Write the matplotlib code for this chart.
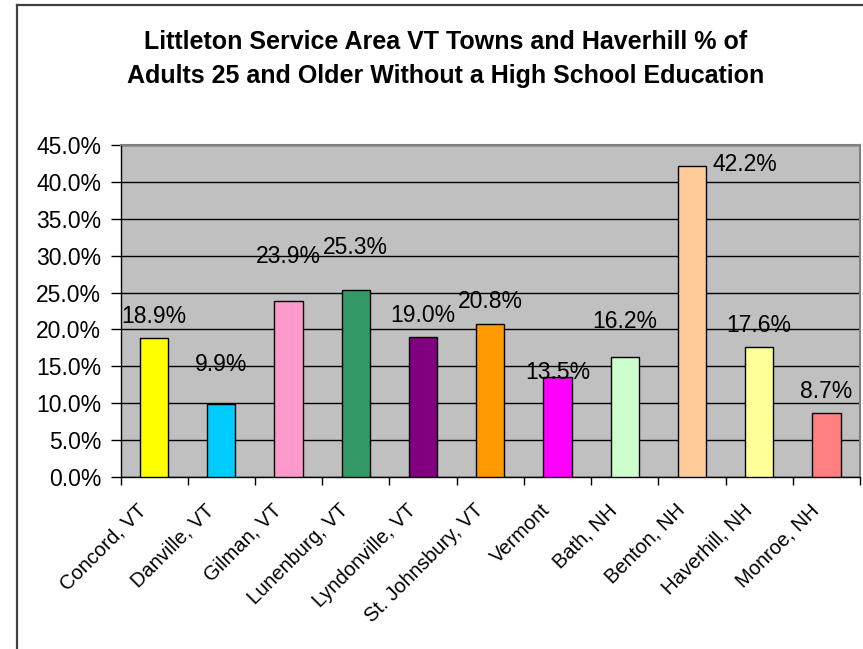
import numpy as np
import matplotlib.pyplot as plt
import matplotlib.transforms as mtransforms
from matplotlib.lines import Line2D
from matplotlib.ticker import FuncFormatter

towns = ["Concord, VT", "Danville, VT", "Gilman, VT", "Lunenburg, VT",
         "Lyndonville, VT", "St. Johnsbury, VT", "Vermont", "Bath, NH",
         "Benton, NH", "Haverhill, NH", "Monroe, NH"]
pct = [18.9, 9.9, 23.9, 25.3, 19.0, 20.8, 13.5, 16.2, 42.2, 17.6, 8.7]
colors = ["#FFFF00", "#00CCFF", "#FF99CC", "#339966", "#800080", "#FF9900",
          "#FF00FF", "#CCFFCC", "#FFCC99", "#FFFF99", "#FF8080"]
# label offsets in pixels (excel placed them a bit irregularly)
lab_dx = [0, 0, 0, 0, 0, 0, 0, 0, 53, 0, 0]
lab_dy = [15, 33, 38, 36, 15, 16, -2, 29, -5, 15, 15]

plt.rcParams['font.family'] = ['Liberation Sans', 'DejaVu Sans']

W, H = 863, 649
fig = plt.figure(figsize=(W / 100, H / 100), dpi=100)

# outer chart border (left/top only visible)
fig.add_artist(Line2D([17 / W, 17 / W], [0, 1 - 5 / H], color="#404040", lw=1.6))
fig.add_artist(Line2D([17 / W, 1], [1 - 5 / H, 1 - 5 / H], color="#404040", lw=1.6))

fig.text(446 / W, 1 - 30 / H,
         "Littleton Service Area VT Towns and Haverhill % of\n"
         "Adults 25 and Older Without a High School Education",
         ha="center", va="top", fontsize=18, fontweight="bold", linespacing=1.5)

ax = fig.add_axes([120.5 / W, 1 - 477 / H, (860 - 120.5) / W, (477 - 145) / H])
ax.set_facecolor("#C0C0C0")

x = np.arange(len(towns))
ax.bar(x, pct, width=0.42, color=colors, edgecolor="black", linewidth=1, zorder=3)

for i, v in enumerate(pct):
    ax.annotate("%.1f%%" % v, (x[i], v), xytext=(lab_dx[i], lab_dy[i]),
                textcoords="offset pixels", ha="center", va="baseline",
                fontsize=16.5, zorder=4)

ax.set_xlim(-0.5, len(towns) - 0.5)
ax.set_ylim(0, 45)
ax.set_yticks(np.arange(0, 46, 5))
ax.yaxis.set_major_formatter(FuncFormatter(lambda v, p: "%.1f%%" % v))
ax.yaxis.grid(True, color="black", lw=1)
ax.set_axisbelow(True)

ax.set_xticks(np.arange(-0.5, len(towns), 1))
ax.set_xticklabels([])
ax.set_xticks(x, minor=True)
ax.set_xticklabels(towns, minor=True, rotation=45, ha="right",
                   rotation_mode="anchor", fontsize=14.5)
ax.tick_params(axis="x", which="minor", length=0, pad=17)
ax.tick_params(axis="x", which="major", length=6, width=1)
ax.tick_params(axis="y", length=7, width=1, labelsize=16.5, pad=7)

shift = mtransforms.ScaledTranslation(-17 / 100, 0, fig.dpi_scale_trans)
for lab in ax.get_xticklabels(minor=True):
    lab.set_transform(lab.get_transform() + shift)

for s in ["left", "bottom"]:
    ax.spines[s].set_color("black")
    ax.spines[s].set_linewidth(1)
for s in ["top", "right"]:
    ax.spines[s].set_color("#808080")
    ax.spines[s].set_linewidth(1.5)

fig.savefig("out.png", dpi=100)
